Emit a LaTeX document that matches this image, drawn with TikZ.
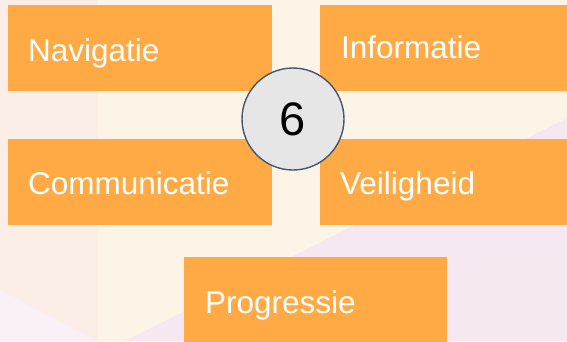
\documentclass[tikz,border=0pt]{standalone}
\usepackage{fontspec}
\setmainfont{Liberation Sans}
\definecolor{bgcream}{HTML}{FDF4E8}
\definecolor{bgstrip}{HTML}{FAEEE6}
\definecolor{bglav}{HTML}{F5E8F0}
\definecolor{bglight}{HTML}{F9F0F5}
\definecolor{boxorange}{HTML}{FFAA44}
\definecolor{circfill}{HTML}{E6E6E6}
\definecolor{circline}{HTML}{46566C}
\tikzset{
  tile/.style={fill=boxorange, draw=none, inner sep=0pt, anchor=north west},
  tiletext/.style={text=white, inner sep=0pt, anchor=base west, font=\fontsize{31.5}{36}\selectfont},
  numcirc/.style={circle, fill=circfill, draw=circline, line width=1.4pt, minimum size=102pt, inner sep=0pt, font=\fontsize{47}{52}\selectfont}
}
\begin{document}
\begin{tikzpicture}[x=1pt,y=-1pt]
\useasboundingbox (0,0) rectangle (567,341);
% background
\fill[bgcream] (0,0) rectangle (567,341);
\fill[bgstrip] (0,0) rectangle (98,341);
\fill[bglav] (567,118) -- (567,341) -- (125,341) -- cycle;
\fill[bglight] (0,290) -- (97,341) -- (0,341) -- cycle;
% tiles
\node[tile, minimum width=264pt, minimum height=86pt] (nav) at (8,5) {};
\node[tile, minimum width=250pt, minimum height=86pt] (inf) at (320,5) {};
\node[tile, minimum width=264pt, minimum height=86pt] (com) at (8,139) {};
\node[tile, minimum width=250pt, minimum height=86pt] (vei) at (320,139) {};
\node[tile, minimum width=263pt, minimum height=90pt] (pro) at (184,257) {};
% texts
\node[tiletext] (navt) at (28,61) {Navigatie};
\node[tiletext] (inft) at (341,58) {Informatie};
\node[tiletext] (comt) at (28,194) {Communicatie};
\node[tiletext] (veit) at (340,194) {Veiligheid};
\node[tiletext] (prot) at (205,313) {Progressie};
% centre circle
\node[numcirc] (six) at (293,119) {6};
\end{tikzpicture}
\end{document}
